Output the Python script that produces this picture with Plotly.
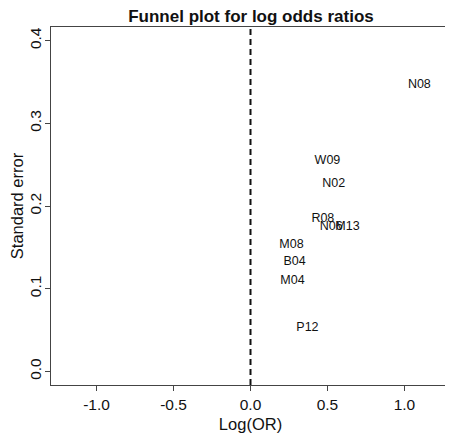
"""
Funnel plot for log odds ratios
Text-labelled scatter of study log(OR) against standard error,
with a dashed reference line at zero (R base-graphics look).
"""

import plotly.graph_objects as go

# ============================================================================
# DATA
# ============================================================================

studies = ['N08', 'W09', 'N02', 'R08', 'N06', 'M13', 'M08', 'B04', 'M04', 'P12']
log_or = [1.097, 0.50, 0.54, 0.47, 0.525, 0.63, 0.266, 0.286, 0.273, 0.37]
std_err = [0.346, 0.254, 0.227, 0.185, 0.175, 0.175, 0.153, 0.132, 0.109, 0.052]

x_ticks = [-1.0, -0.5, 0.0, 0.5, 1.0]
y_ticks = [0.0, 0.1, 0.2, 0.3, 0.4]

FONT = 'Liberation Sans, Arial, sans-serif'
INK = '#111111'
FRAME = '#444444'

# ============================================================================
# FIGURE
# ============================================================================

fig = go.Figure()

fig.add_trace(go.Scatter(
    x=log_or,
    y=std_err,
    mode='text',
    text=studies,
    textposition='middle center',
    textfont=dict(family=FONT, size=12.5, color=INK),
    showlegend=False,
    hoverinfo='text'
))

# dashed reference line at log(OR) = 0
fig.add_vline(x=0, line=dict(color=INK, width=2, dash='6px,4px'))

# page body adds an 8px margin, so the figure is sized 8px smaller
fig.update_layout(
    width=445,
    height=427,
    plot_bgcolor='white',
    paper_bgcolor='white',
    font=dict(family=FONT, size=15.5, color=INK),
    title=dict(
        text='<b>Funnel plot for log odds ratios</b>',
        font=dict(size=17, color=INK),
        x=0.546, xanchor='center',
        y=0.982, yanchor='middle',
        automargin=False
    ),
    margin=dict(l=43, r=3, t=19, b=50, autoexpand=False)
)

fig.update_xaxes(
    range=[-1.296, 1.296],
    tickvals=x_ticks,
    ticktext=['%.1f' % v for v in x_ticks],
    ticks='outside', ticklen=5, tickwidth=1, tickcolor=FRAME,
    showline=True, linecolor=FRAME, linewidth=1, mirror=True,
    showgrid=False, zeroline=False, automargin=False,
    tickfont=dict(size=15.5),
    ticklabelstandoff=0,
    title=dict(text='Log(OR)', font=dict(size=16.5), standoff=6)
)

fig.update_yaxes(
    range=[-0.0165, 0.4165],
    tickvals=y_ticks,
    ticktext=['%.1f' % v for v in y_ticks],
    tickangle=-90,
    ticks='outside', ticklen=5, tickwidth=1, tickcolor=FRAME,
    showline=True, linecolor=FRAME, linewidth=1, mirror=True,
    showgrid=False, zeroline=False, automargin=False,
    tickfont=dict(size=15.5),
    ticklabelstandoff=-2,
    title=dict(text='Standard error', font=dict(size=16.5), standoff=0)
)

fig.write_html('out.html')
